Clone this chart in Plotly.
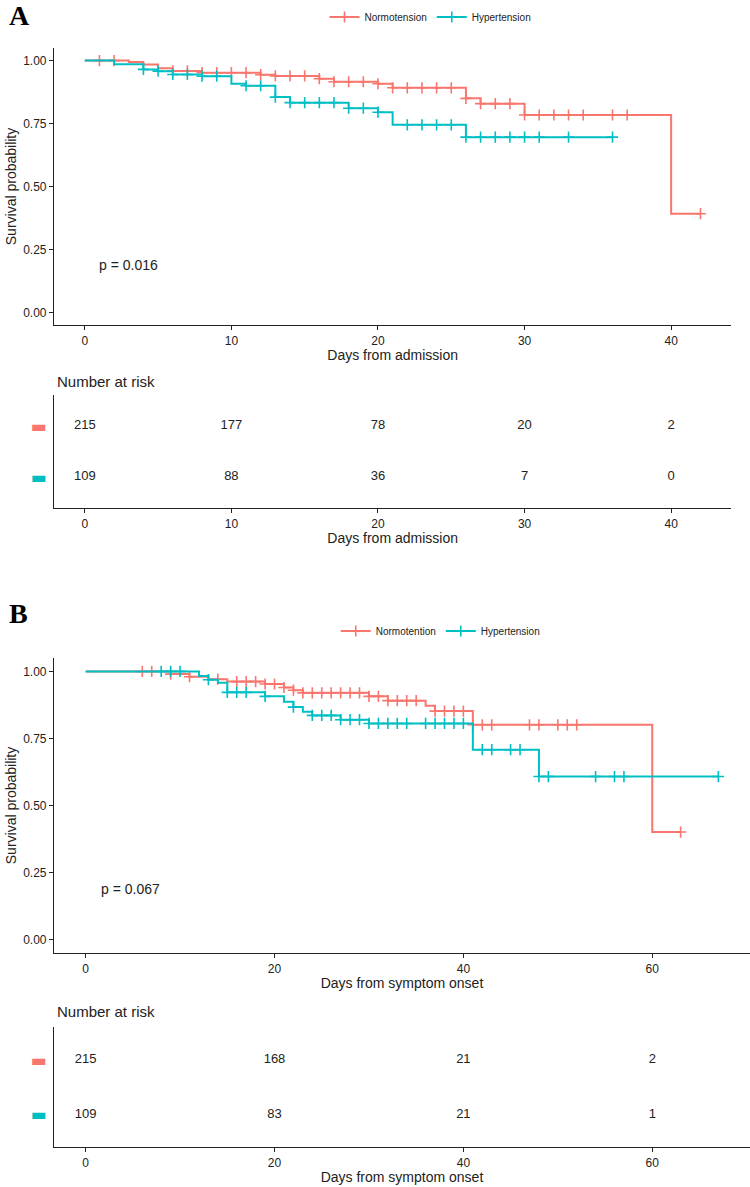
import plotly.graph_objects as go

RED = "#F8766D"
TEAL = "#00BFC4"
FONT = "Liberation Sans"

# ---- A: days from admission ----
a_norm_time = [0, 3, 4, 5, 6, 8, 12, 13, 16, 17, 20, 21, 26, 27, 30, 40, 42]
a_norm_surv = [1.0, 0.994, 0.984, 0.970, 0.959, 0.952, 0.944, 0.939, 0.928, 0.916,
               0.908, 0.892, 0.850, 0.829, 0.784, 0.392, 0.392]
a_norm_cens = [1, 2, 6, 7, 8, 9, 10, 11, 12, 13, 14, 15, 16, 17, 18, 19, 20, 21, 22,
               23, 24, 25, 26, 27, 28, 29, 30, 31, 32, 33, 34, 36, 37, 42]
a_hyp_time = [0, 2, 4, 5, 6, 8, 10, 11, 13, 14, 18, 20, 21, 26, 36]
a_hyp_surv = [1.0, 0.985, 0.965, 0.958, 0.945, 0.938, 0.908, 0.900, 0.855, 0.833,
              0.811, 0.795, 0.745, 0.696, 0.696]
a_hyp_cens = [4, 5, 6, 7, 8, 9, 11, 12, 13, 14, 15, 16, 17, 18, 19, 20, 22, 23, 24,
              25, 26, 27, 28, 29, 30, 31, 33, 36]
a_risk_time = [0, 10, 20, 30, 40]
a_risk_norm = [215, 177, 78, 20, 2]
a_risk_hyp = [109, 88, 36, 7, 0]

# ---- B: days from symptom onset ----
b_norm_time = [0, 9, 11, 13, 15, 19, 21, 22, 23, 30, 32, 36, 37, 41, 60, 63]
b_norm_surv = [1.0, 0.990, 0.980, 0.971, 0.962, 0.953, 0.940, 0.930, 0.920, 0.907,
               0.891, 0.872, 0.852, 0.801, 0.401, 0.401]
b_norm_cens = [6, 7, 9, 11, 14, 16, 17, 18, 19, 20, 21, 22, 23, 24, 25, 26, 27, 28,
               29, 30, 31, 32, 33, 34, 35, 37, 38, 39, 40, 41, 42, 43, 47, 48, 50,
               51, 52, 63]
b_hyp_time = [0, 12, 13, 14, 15, 19, 21, 22, 23, 24, 27, 30, 41, 48, 67]
b_hyp_surv = [1.0, 0.983, 0.969, 0.958, 0.922, 0.907, 0.887, 0.867, 0.850, 0.836,
              0.820, 0.806, 0.708, 0.608, 0.608]
b_hyp_cens = [8, 9, 10, 13, 15, 16, 17, 19, 22, 24, 25, 26, 27, 28, 29, 30, 31, 32,
              33, 34, 36, 37, 38, 39, 40, 42, 43, 45, 46, 48, 49, 54, 56, 57, 67]
b_risk_time = [0, 20, 40, 60]
b_risk_norm = [215, 168, 21, 2]
b_risk_hyp = [109, 83, 21, 1]


def surv_at(times, surv, t):
    value = surv[0]
    for ti, si in zip(times, surv):
        if ti <= t:
            value = si
    return value


def add_curve(fig, times, surv, cens, color, xa, ya):
    fig.add_trace(go.Scatter(x=times, y=surv, mode="lines", xaxis=xa, yaxis=ya,
                             line=dict(color=color, width=2, shape="hv"),
                             showlegend=False, hoverinfo="skip"))
    fig.add_trace(go.Scatter(x=cens, y=[surv_at(times, surv, t) for t in cens],
                             mode="markers", xaxis=xa, yaxis=ya, showlegend=False,
                             marker=dict(symbol="cross-thin", size=8,
                                         line=dict(color=color, width=1.6))))


def add_key(fig, name, color, legend, xa, ya):
    fig.add_trace(go.Scatter(x=[None], y=[None], mode="lines+markers", name=name,
                             xaxis=xa, yaxis=ya, legend=legend,
                             line=dict(color=color, width=2),
                             marker=dict(symbol="cross-thin", size=8,
                                         line=dict(color=color, width=1.6))))


def add_risk(fig, times, counts, row, xa, ya):
    fig.add_trace(go.Scatter(x=times, y=[row] * len(times), mode="text",
                             text=[str(c) for c in counts], xaxis=xa, yaxis=ya,
                             textfont=dict(size=13, color="#222", family=FONT),
                             showlegend=False, cliponaxis=False, hoverinfo="skip"))


fig = go.Figure()

add_curve(fig, a_norm_time, a_norm_surv, a_norm_cens, RED, "x", "y")
add_curve(fig, a_hyp_time, a_hyp_surv, a_hyp_cens, TEAL, "x", "y")
add_key(fig, "Normotension", RED, "legend", "x", "y")
add_key(fig, "Hypertension", TEAL, "legend", "x", "y")
add_risk(fig, a_risk_time, a_risk_norm, 2, "x2", "y2")
add_risk(fig, a_risk_time, a_risk_hyp, 1, "x2", "y2")

add_curve(fig, b_norm_time, b_norm_surv, b_norm_cens, RED, "x3", "y3")
add_curve(fig, b_hyp_time, b_hyp_surv, b_hyp_cens, TEAL, "x3", "y3")
add_key(fig, "Normotention", RED, "legend2", "x3", "y3")
add_key(fig, "Hypertension", TEAL, "legend2", "x3", "y3")
add_risk(fig, b_risk_time, b_risk_norm, 2, "x4", "y4")
add_risk(fig, b_risk_time, b_risk_hyp, 1, "x4", "y4")

H = 1187.0


def band(top_px, bottom_px):
    return [1 - bottom_px / H, 1 - top_px / H]


base = dict(showline=True, linecolor="#222", linewidth=1.2, showgrid=False,
            zeroline=False, ticks="outside", ticklen=4, tickcolor="#222",
            tickwidth=1.1, automargin=False,
            tickfont=dict(size=12, color="#222", family=FONT))

yprob = dict(base, range=[-0.05, 1.05], tickvals=[0, 0.25, 0.5, 0.75, 1.0],
             tickformat=".2f",
             title=dict(text="Survival probability", standoff=3,
                        font=dict(size=14, color="#222", family=FONT)))

dash_labels = ['<span style="color:%s"><b>▬</b></span>' % TEAL,
               '<span style="color:%s"><b>▬</b></span>' % RED]
yrisk = dict(base, range=[0.4, 2.6], tickvals=[1, 2], ticktext=dash_labels,
             ticks="", ticklabelstandoff=3, tickfont=dict(size=17, family="DejaVu Sans"))


def xtitle(text):
    return dict(text=text, standoff=2, font=dict(size=14, color="#222", family=FONT))


fig.update_layout(
    width=750, height=1187, autosize=False,
    margin=dict(l=0, r=0, t=0, b=0),
    paper_bgcolor="white", plot_bgcolor="white",
    font=dict(family=FONT, color="#222"),
    xaxis=dict(base, domain=[0.072, 0.975], range=[-2.1, 44.1],
               tickvals=a_risk_time, anchor="y", title=xtitle("Days from admission")),
    yaxis=dict(yprob, domain=band(48, 325), anchor="x"),
    xaxis2=dict(base, domain=[0.072, 0.975], range=[-2.1, 44.1],
                tickvals=a_risk_time, anchor="y2", title=xtitle("Days from admission")),
    yaxis2=dict(yrisk, domain=band(395, 508), anchor="x2"),
    xaxis3=dict(base, domain=[0.072, 1.0], range=[-3.35, 70.35],
                tickvals=b_risk_time, anchor="y3", title=xtitle("Days from symptom onset")),
    yaxis3=dict(yprob, domain=band(658, 953), anchor="x3"),
    xaxis4=dict(base, domain=[0.072, 1.0], range=[-3.35, 70.35],
                tickvals=b_risk_time, anchor="y4", title=xtitle("Days from symptom onset")),
    yaxis4=dict(yrisk, domain=band(1027, 1147), anchor="x4"),
    legend=dict(orientation="h", x=0.574, y=1 - 17 / H, xanchor="center",
                yanchor="middle", font=dict(size=10, color="#222"),
                itemwidth=30, bgcolor="rgba(0,0,0,0)"),
    legend2=dict(orientation="h", x=0.587, y=1 - 631 / H, xanchor="center",
                 yanchor="middle", font=dict(size=10, color="#222"),
                 itemwidth=30, bgcolor="rgba(0,0,0,0)"),
    annotations=[
        dict(text="<b>A</b>", x=7 / 750, y=1 - 15 / H, xref="paper", yref="paper",
             xanchor="left", yanchor="middle", showarrow=False,
             font=dict(size=28, family="Liberation Serif", color="black")),
        dict(text="<b>B</b>", x=7 / 750, y=1 - 614 / H, xref="paper", yref="paper",
             xanchor="left", yanchor="middle", showarrow=False,
             font=dict(size=28, family="Liberation Serif", color="black")),
        dict(text="p = 0.016", x=0.8, y=0.19, xref="x", yref="y", xanchor="left",
             showarrow=False, font=dict(size=14, color="#222")),
        dict(text="p = 0.067", x=1.4, y=0.19, xref="x3", yref="y3", xanchor="left",
             showarrow=False, font=dict(size=14, color="#222")),
        dict(text="Number at risk", x=55 / 750, y=1 - 381 / H, xref="paper",
             yref="paper", xanchor="left", yanchor="middle", showarrow=False,
             font=dict(size=15, color="#222")),
        dict(text="Number at risk", x=55 / 750, y=1 - 1012 / H, xref="paper",
             yref="paper", xanchor="left", yanchor="middle", showarrow=False,
             font=dict(size=15, color="#222")),
    ],
)

# the page's default body margin would push the 750x1187 figure off the window
fig.write_html("out.html", config={"displayModeBar": False},
               post_script="document.body.style.margin = '0';")
